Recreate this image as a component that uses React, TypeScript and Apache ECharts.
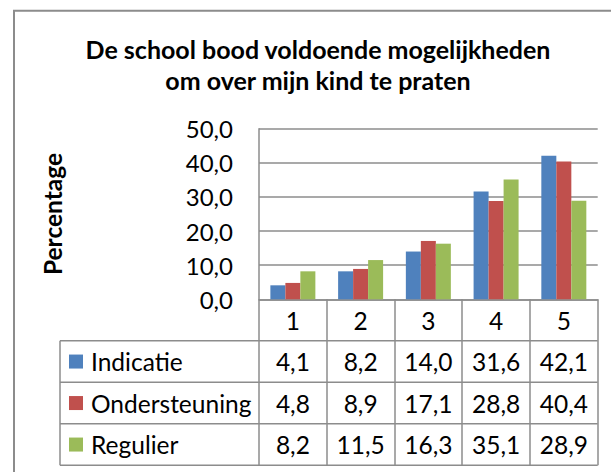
import React, { useEffect, useRef } from "react";
import * as echarts from "echarts";

const titleLines = ["De school bood voldoende mogelijkheden", "om over mijn kind te praten"];
const yAxisName = "Percentage";
const categories = ["1", "2", "3", "4", "5"];
const seriesNames = ["Indicatie", "Ondersteuning", "Regulier"];
const indicatie = [4.1, 8.2, 14.0, 31.6, 42.1];
const ondersteuning = [4.8, 8.9, 17.1, 28.8, 40.4];
const regulier = [8.2, 11.5, 16.3, 35.1, 28.9];
const seriesValues = [indicatie, ondersteuning, regulier];
const yMin = 0;
const yMax = 50;
const yStep = 10;

const COLORS = ["#4F81BD", "#C0504D", "#9BBB59"];
const LINE = "#8c8c8c";
const FONT = "Lato";
const W = 611;
const H = 472;
const FS = 24.5;

const fmt = (v: number) => v.toFixed(1).replace(".", ",");

export default function App() {
  const ref = useRef<HTMLDivElement>(null);
  useEffect(() => {
    document.body.style.margin = "0";
    if (!ref.current) return;
    const chart = echarts.init(ref.current, undefined, { renderer: "svg" });
    const gridLeft = 259;
    const gridRight = 597.7;
    const gridTop = 128.7;
    const gridBottom = 299.3;
    const rowH = 41.5;
    const tableLeft = 60;
    const tableBottom = gridBottom + rowH * 4;

    chart.setOption({
      animation: false,
      backgroundColor: "#ffffff",
      textStyle: { fontFamily: FONT },
      grid: {
        left: gridLeft,
        top: gridTop,
        right: W - gridRight,
        bottom: H - gridBottom,
        containLabel: false,
        outerBoundsMode: "none",
      },
      xAxis: {
        type: "category",
        data: categories,
        axisLine: { show: true, lineStyle: { color: LINE, width: 1.5 } },
        axisTick: { show: true, length: tableBottom - gridBottom, lineStyle: { color: LINE, width: 1.5 } },
        axisLabel: { margin: 7, fontSize: FS, color: "#000", fontFamily: FONT, lineHeight: 28 },
        splitLine: { show: false },
      },
      yAxis: {
        type: "value",
        min: yMin,
        max: yMax,
        interval: yStep,
        name: yAxisName,
        nameLocation: "middle",
        nameGap: gridLeft - 65,
        nameTextStyle: { fontSize: 24.5, fontWeight: "bold", color: "#000", fontFamily: FONT },
        axisLine: { show: true, lineStyle: { color: LINE, width: 1.5 } },
        axisTick: { show: false },
        axisLabel: { margin: 26, fontSize: 24, color: "#000", fontFamily: FONT, formatter: (v: number) => fmt(v) },
        splitLine: { show: true, lineStyle: { color: LINE, width: 1.5 } },
      },
      series: seriesNames.map((name, i) => ({
        name,
        type: "bar",
        data: seriesValues[i],
        barWidth: 15,
        barGap: "0%",
        itemStyle: { color: COLORS[i] },
      })),
    });

    const graphics: any[] = [];
    graphics.push({
      type: "rect",
      shape: { x: 14, y: 10.7, width: 800, height: 800 },
      style: { fill: "none", stroke: LINE, lineWidth: 2 },
      silent: true,
    });
    titleLines.forEach((t, i) => {
      graphics.push({
        type: "text",
        x: 318,
        y: 49 + i * 31,
        style: {
          text: t,
          fontFamily: FONT,
          fontSize: 25,
          fontWeight: "bold",
          fill: "#000",
          align: "center",
          verticalAlign: "middle",
        },
      });
    });
    for (let r = 1; r <= 4; r++) {
      const y = gridBottom + rowH * r;
      graphics.push({
        type: "line",
        shape: { x1: tableLeft, y1: y, x2: gridRight, y2: y },
        style: { stroke: LINE, lineWidth: 1.5 },
      });
    }
    graphics.push({
      type: "line",
      shape: { x1: tableLeft, y1: gridBottom + rowH, x2: tableLeft, y2: tableBottom },
      style: { stroke: LINE, lineWidth: 1.5 },
    });
    seriesNames.forEach((name, s) => {
      const cy = gridBottom + rowH * (s + 1) + rowH / 2;
      graphics.push({
        type: "rect",
        shape: { x: 69, y: cy - 7, width: 14, height: 14 },
        style: { fill: COLORS[s] },
      });
      graphics.push({
        type: "text",
        x: 91,
        y: cy,
        style: { text: name, fontFamily: FONT, fontSize: FS, fill: "#000", align: "left", verticalAlign: "middle" },
      });
      seriesValues[s].forEach((v, c) => {
        const px = chart.convertToPixel({ xAxisIndex: 0 }, c) as number;
        graphics.push({
          type: "text",
          x: px,
          y: cy,
          style: { text: fmt(v), fontFamily: FONT, fontSize: FS, fill: "#000", align: "center", verticalAlign: "middle" },
        });
      });
    });

    chart.setOption({ graphic: graphics });
    return () => chart.dispose();
  }, []);
  return <div ref={ref} style={{ width: W, height: H }} />;
}
